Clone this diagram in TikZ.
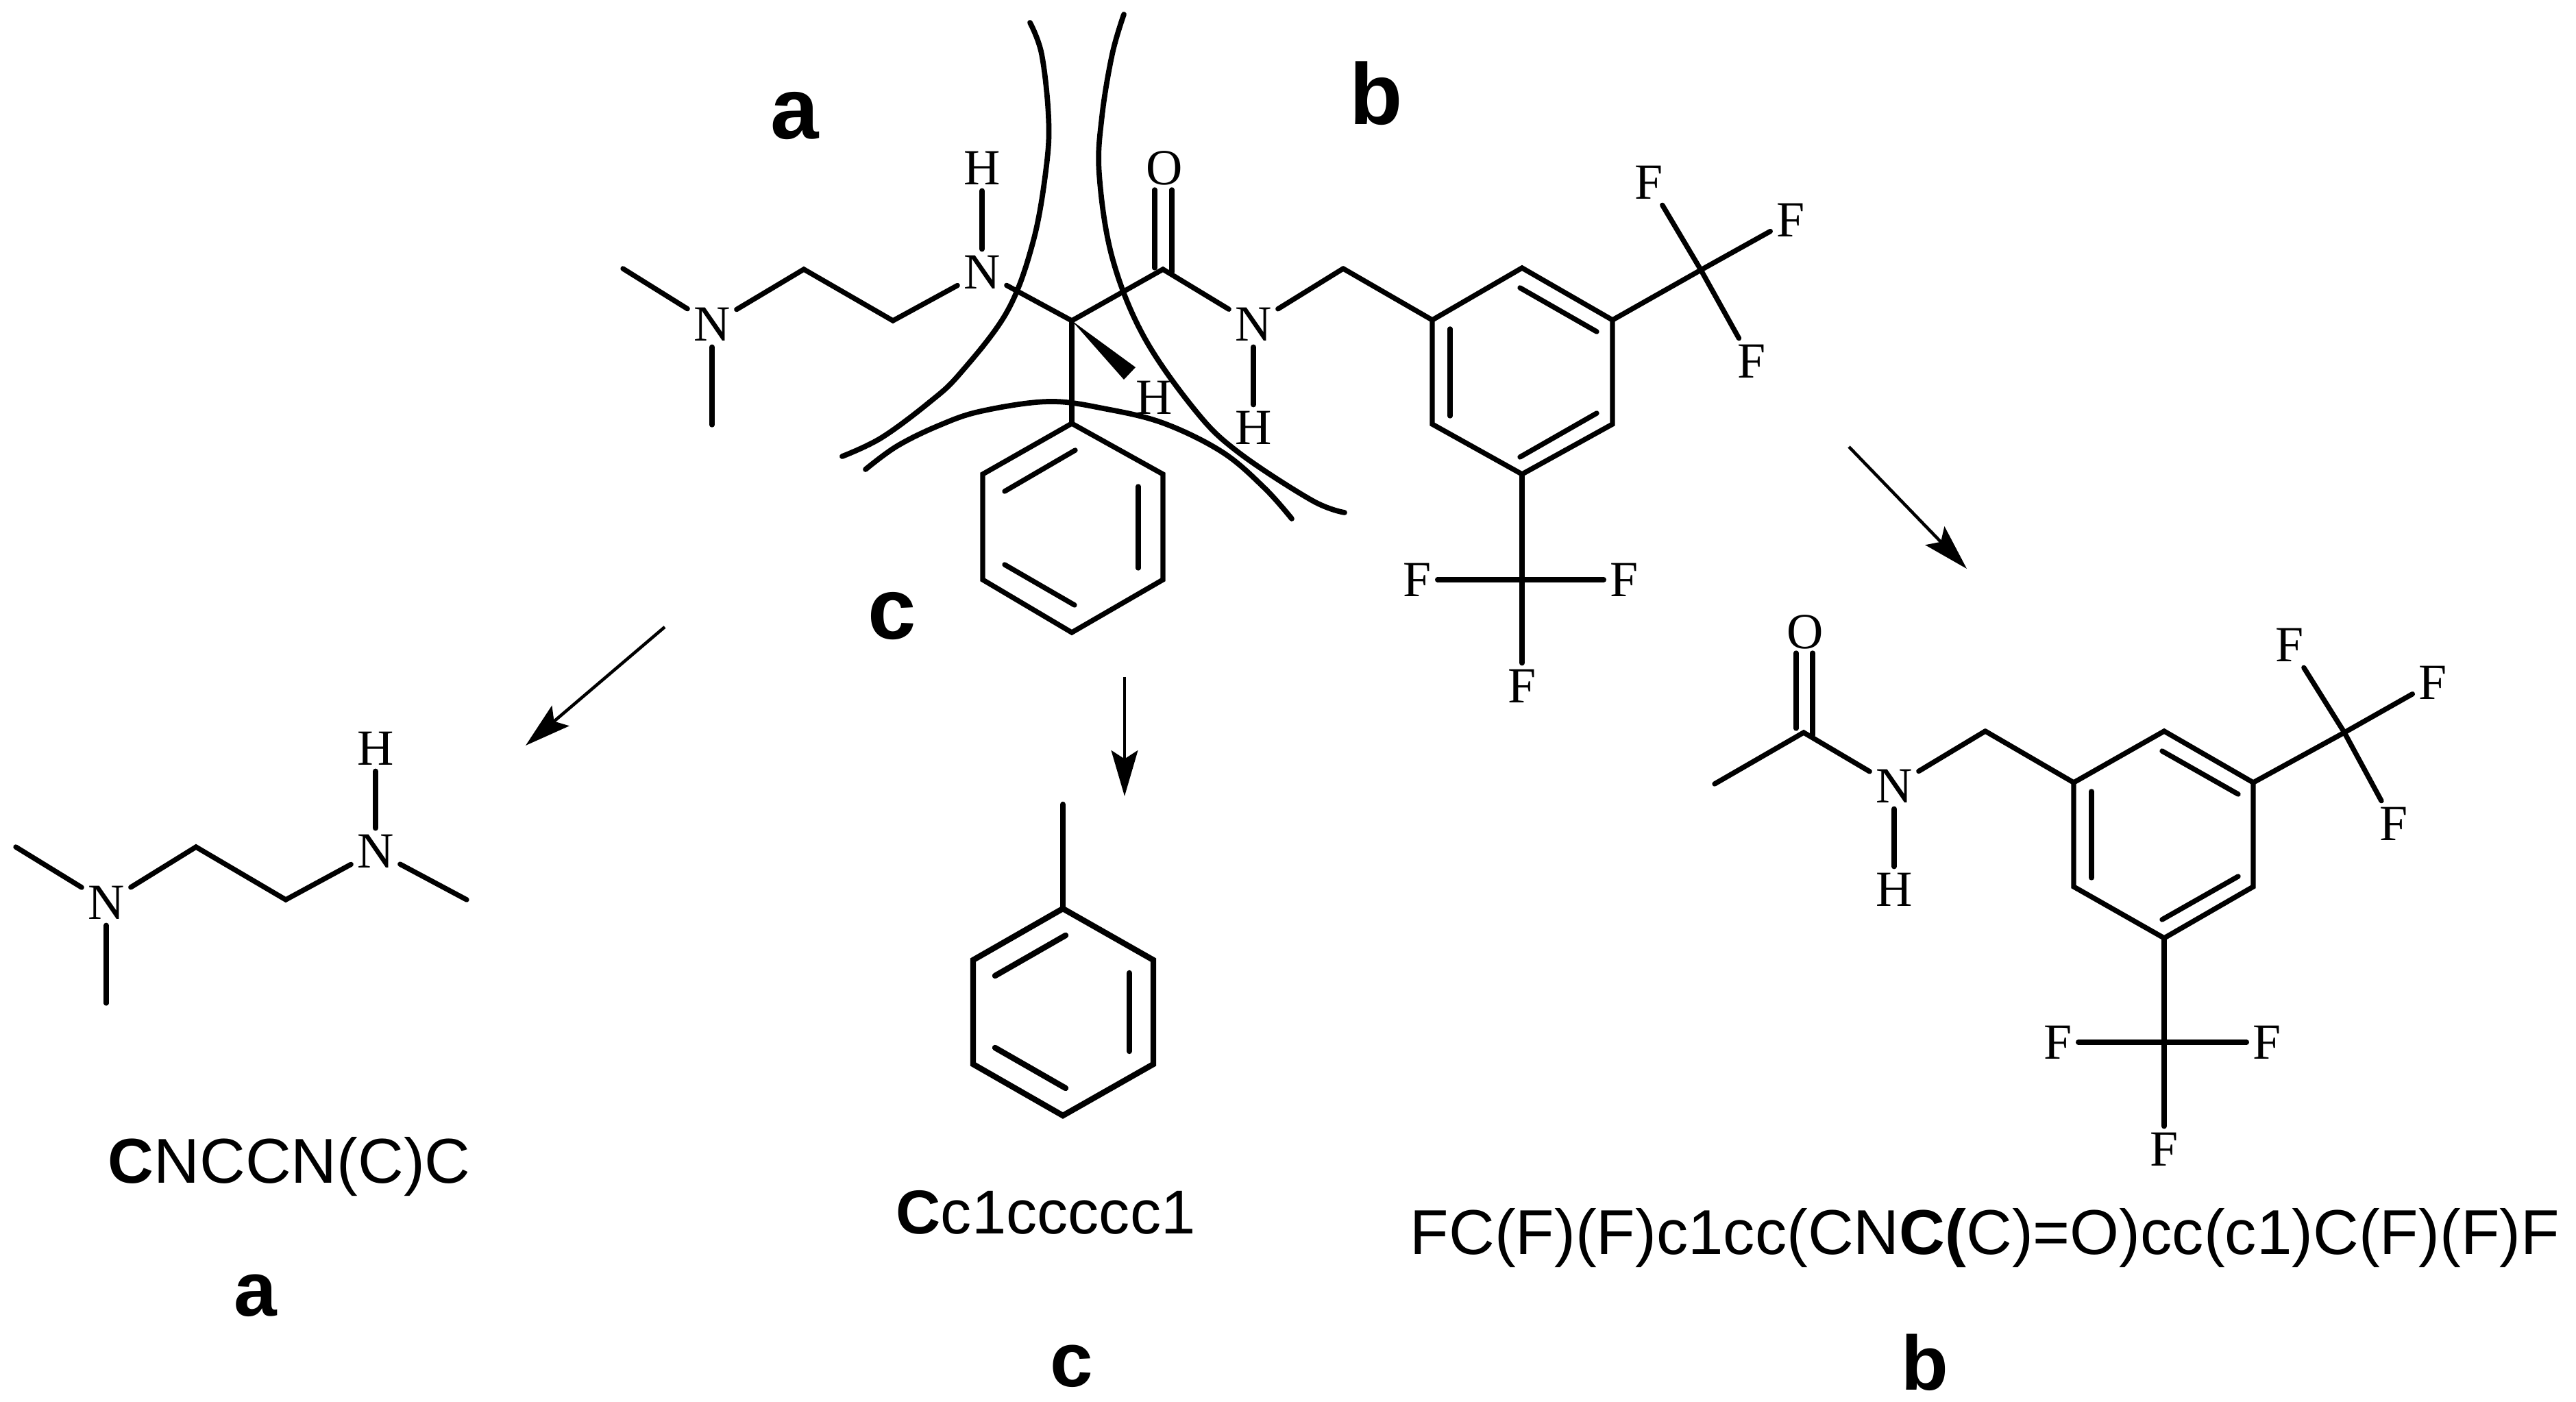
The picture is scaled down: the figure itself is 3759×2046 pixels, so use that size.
\documentclass[tikz,border=0pt]{standalone}
\usepackage{fontspec}
\setmainfont{Liberation Serif}
\newfontfamily\sanslabel{Liberation Sans}
\usetikzlibrary{arrows.meta}
\tikzset{
  atom/.style={inner sep=2.6pt, outer sep=0pt, font=\fontsize{21}{25}\selectfont},
  bond/.style={line width=2.1pt, line cap=round},
  thickbond/.style={line width=2.4pt, line cap=round},
  cutline/.style={line width=2.2pt, line cap=round},
  pointer/.style={line width=1.3pt, -{Stealth[length=19pt, width=11pt, inset=3.5pt]}},
  tag/.style={inner sep=0pt, anchor=base west, font=\sanslabel\bfseries\fontsize{36}{40}\selectfont},
  subtag/.style={inner sep=0pt, anchor=base, font=\sanslabel\bfseries\fontsize{32}{36}\selectfont},
  smiles/.style={inner sep=0pt, anchor=base west, font=\sanslabel\fontsize{26.3}{30}\selectfont}
}
\begin{document}
\begin{tikzpicture}[x=0.01cm, y=-0.01cm]
        \useasboundingbox (0,0) rectangle (3759,2046);

        % whole molecule
        \node[atom] (n1) at (1039,473) {N};
        \node[atom] (n2) at (1433,397) {N};
        \node[atom] (h2) at (1433,245) {H};
        \node[atom] (o1) at (1699,245) {O};
        \node[atom] (n3) at (1829,473) {N};
        \node[atom] (h3) at (1829,624) {H};
        \node[atom] (hw) at (1684,580) {H};
        \coordinate (me1) at (909,392);
        \coordinate (me2) at (1039,620);
        \coordinate (c1) at (1173,393);
        \coordinate (c2) at (1303,468);
        \coordinate (cs) at (1564,468);
        \coordinate (co) at (1697,393);
        \coordinate (co1a) at (1685,277);
        \coordinate (co1b) at (1685,391);
        \coordinate (co2a) at (1710,277);
        \coordinate (co2b) at (1710,397);
        \coordinate (c3) at (1960,392);
        \coordinate (wa) at (1657,536);
        \coordinate (wb) at (1640,554);

        \draw[bond] (me1) -- (n1);
        \draw[bond] (n1) -- (me2);
        \draw[bond] (n1) -- (c1) -- (c2) -- (n2);
        \draw[bond] (n2) -- (h2);
        \draw[bond] (n2) -- (cs) -- (co) -- (n3);
        \draw[bond] (co1a) -- (co1b);
        \draw[bond] (co2a) -- (co2b);
        \draw[bond] (n3) -- (h3);
        \draw[bond] (n3) -- (c3);
        \fill (cs) -- (wa) -- (wb) -- cycle;

        % phenyl ring
        \coordinate (p1) at (1564,618);
        \coordinate (p2) at (1434,692);
        \coordinate (p3) at (1434,846);
        \coordinate (p4) at (1564,923);
        \coordinate (p5) at (1697,846);
        \coordinate (p6) at (1697,692);
        \coordinate (pi1) at (1466,717);
        \coordinate (pi2) at (1569,657);
        \coordinate (pi3) at (1466,824);
        \coordinate (pi4) at (1568,883);
        \coordinate (pi5) at (1661,710);
        \coordinate (pi6) at (1661,829);
        \draw[bond] (cs) -- (p1);
        \draw[bond] (p1) -- (p2) -- (p3) -- (p4) -- (p5) -- (p6) -- cycle;
        \draw[bond] (pi1) -- (pi2);
        \draw[bond] (pi3) -- (pi4);
        \draw[bond] (pi5) -- (pi6);

        % aryl ring with the two CF3
        \coordinate (r1) at (2090,467);
        \coordinate (r2) at (2221,391);
        \coordinate (r3) at (2353,467);
        \coordinate (r4) at (2353,619);
        \coordinate (r5) at (2221,692);
        \coordinate (r6) at (2090,619);
        \coordinate (ri1) at (2218,420);
        \coordinate (ri2) at (2330,484);
        \coordinate (ri3) at (2330,603);
        \coordinate (ri4) at (2218,667);
        \coordinate (ri5) at (2116,480);
        \coordinate (ri6) at (2116,607);
        \coordinate (cf1) at (2482,394);
        \coordinate (cf2) at (2221,846);
        \node[atom] (f1) at (2406,266) {F};
        \node[atom] (f2) at (2613,321) {F};
        \node[atom] (f3) at (2556,527) {F};
        \node[atom] (f4) at (2068,846) {F};
        \node[atom] (f5) at (2370,846) {F};
        \node[atom] (f6) at (2221,1001) {F};
        \draw[bond] (c3) -- (r1);
        \draw[bond] (r1) -- (r2) -- (r3) -- (r4) -- (r5) -- (r6) -- cycle;
        \draw[bond] (ri1) -- (ri2);
        \draw[bond] (ri3) -- (ri4);
        \draw[bond] (ri5) -- (ri6);
        \draw[bond] (r3) -- (cf1) -- (f2);
        \draw[bond] (f1) -- (cf1) -- (f3);
        \draw[bond] (r5) -- (cf2) -- (f6);
        \draw[bond] (f4) -- (cf2) -- (f5);

        % cut lines
        \draw[cutline] plot[smooth, tension=0.6] coordinates {(1503,33) (1520,79) (1530,170) (1527,242) (1508,351) (1470,454) (1401,545) (1355,588) (1286,639) (1229,666)};
        \draw[cutline] plot[smooth, tension=0.6] coordinates {(1640,21) (1623,79) (1608,170) (1604,254) (1623,376) (1669,491) (1745,600) (1807,660) (1914,730) (1962,748)};
        \draw[cutline] plot[smooth, tension=0.6] coordinates {(1263,685) (1309,651) (1370,621) (1432,600) (1531,586) (1615,597) (1699,618) (1784,660) (1845,712) (1885,757)};

        \node[tag] (ta) at (1124,203) {a};
        \node[tag] (tb) at (1969,182) {b};
        \node[tag] (tc) at (1266,933) {c};

        % pointers
        \coordinate (aa) at (970,915);
        \coordinate (ab) at (767,1088);
        \coordinate (ba) at (2698,652);
        \coordinate (bb) at (2870,830);
        \coordinate (ca) at (1641,988);
        \coordinate (cb) at (1641,1162);
        \draw[pointer] (aa) -- (ab);
        \draw[pointer] (ba) -- (bb);
        \draw[pointer] (ca) -- (cb);

        % fragment a
        \node[atom] (an1) at (155,1317) {N};
        \node[atom] (an2) at (548,1242) {N};
        \node[atom] (ah) at (548,1092) {H};
        \coordinate (am1) at (23,1236);
        \coordinate (am2) at (155,1464);
        \coordinate (am3) at (681,1313);
        \coordinate (ac1) at (286,1236);
        \coordinate (ac2) at (417,1313);
        \draw[bond] (am1) -- (an1);
        \draw[bond] (an1) -- (am2);
        \draw[bond] (an1) -- (ac1) -- (ac2) -- (an2);
        \draw[bond] (an2) -- (ah);
        \draw[bond] (an2) -- (am3);
        \node[smiles] (as) at (157,1726) {\textbf{C}NCCN(C)C};
        \node[subtag] (al) at (373,1920) {a};

        % fragment c
        \coordinate (cm) at (1551,1174);
        \coordinate (q1) at (1551,1326);
        \coordinate (q2) at (1420,1401);
        \coordinate (q3) at (1420,1553);
        \coordinate (q4) at (1551,1628);
        \coordinate (q5) at (1683,1553);
        \coordinate (q6) at (1683,1401);
        \coordinate (qi1) at (1555,1365);
        \coordinate (qi2) at (1452,1424);
        \coordinate (qi3) at (1452,1529);
        \coordinate (qi4) at (1555,1588);
        \coordinate (qi5) at (1648,1420);
        \coordinate (qi6) at (1648,1534);
        \draw[thickbond] (cm) -- (q1);
        \draw[thickbond] (q1) -- (q2) -- (q3) -- (q4) -- (q5) -- (q6) -- cycle;
        \draw[thickbond] (qi1) -- (qi2);
        \draw[thickbond] (qi3) -- (qi4);
        \draw[thickbond] (qi5) -- (qi6);
        \node[smiles, font=\sanslabel\fontsize{25.7}{30}\selectfont] (cs2) at (1307,1800) {\textbf{C}c1ccccc1};
        \node[subtag] (cl) at (1564,2023) {c};

        % fragment b
        \node[atom] (bo) at (2634,922) {O};
        \node[atom] (bn) at (2764,1147) {N};
        \node[atom] (bh) at (2764,1298) {H};
        \coordinate (bm) at (2502,1144);
        \coordinate (bc) at (2632,1069);
        \coordinate (bo1a) at (2621,953);
        \coordinate (bo1b) at (2621,1063);
        \coordinate (bo2a) at (2645,953);
        \coordinate (bo2b) at (2645,1073);
        \coordinate (bc2) at (2897,1067);
        \draw[bond] (bm) -- (bc) -- (bn);
        \draw[bond] (bo1a) -- (bo1b);
        \draw[bond] (bo2a) -- (bo2b);
        \draw[bond] (bn) -- (bh);
        \draw[bond] (bn) -- (bc2);
        \coordinate (s1) at (3026,1142);
        \coordinate (s2) at (3158,1067);
        \coordinate (s3) at (3288,1142);
        \coordinate (s4) at (3288,1294);
        \coordinate (s5) at (3158,1369);
        \coordinate (s6) at (3026,1294);
        \coordinate (si1) at (3155,1096);
        \coordinate (si2) at (3266,1159);
        \coordinate (si3) at (3266,1279);
        \coordinate (si4) at (3155,1342);
        \coordinate (si5) at (3052,1155);
        \coordinate (si6) at (3052,1281);
        \coordinate (bf1) at (3421,1069);
        \coordinate (bf2) at (3158,1521);
        \node[atom] (g1) at (3341,941) {F};
        \node[atom] (g2) at (3550,996) {F};
        \node[atom] (g3) at (3493,1202) {F};
        \node[atom] (g4) at (3003,1521) {F};
        \node[atom] (g5) at (3308,1521) {F};
        \node[atom] (g6) at (3158,1677) {F};
        \draw[bond] (bc2) -- (s1);
        \draw[bond] (s1) -- (s2) -- (s3) -- (s4) -- (s5) -- (s6) -- cycle;
        \draw[bond] (si1) -- (si2);
        \draw[bond] (si3) -- (si4);
        \draw[bond] (si5) -- (si6);
        \draw[bond] (s3) -- (bf1) -- (g2);
        \draw[bond] (g1) -- (bf1) -- (g3);
        \draw[bond] (s5) -- (bf2) -- (g6);
        \draw[bond] (g4) -- (bf2) -- (g5);
        \node[smiles] (bs) at (2057,1830) {FC(F)(F)c1cc(CN\textbf{C(}C)=O)cc(c1)C(F)(F)F};
        \node[subtag] (bl) at (2809,2028) {b};
\end{tikzpicture}
\end{document}
